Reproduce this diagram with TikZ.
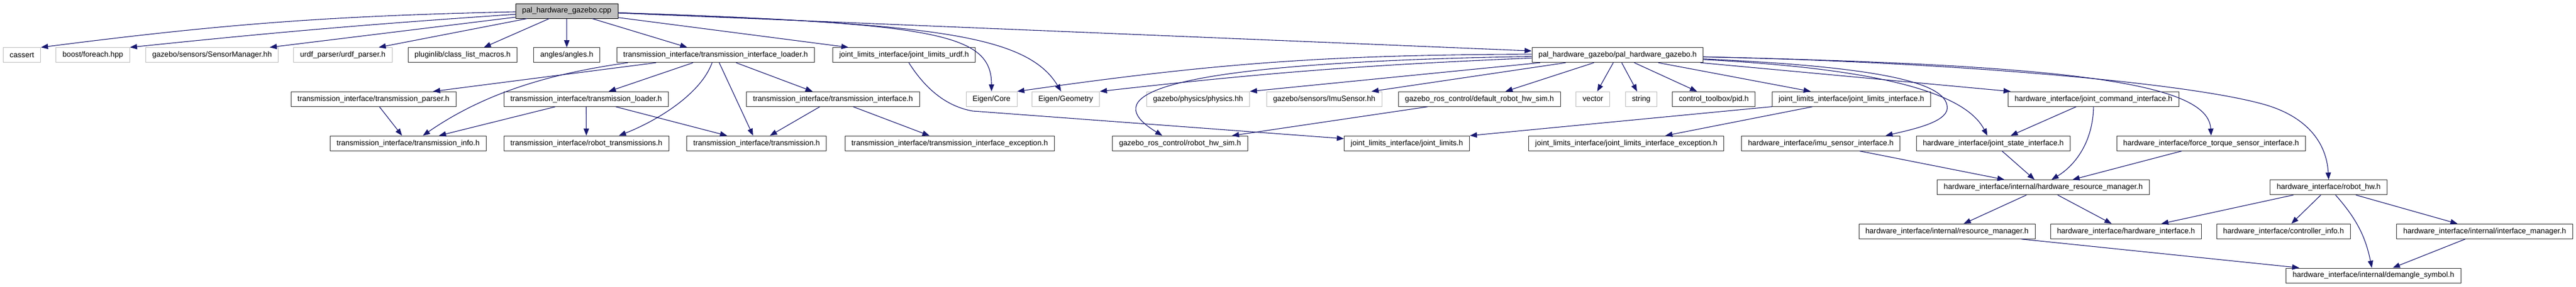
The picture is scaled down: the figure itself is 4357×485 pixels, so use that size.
\documentclass[tikz,border=0pt]{standalone}
\usepackage{fontspec}
\usepackage{tikz}
\usetikzlibrary{arrows.meta}
\newfontfamily\dotfont{Liberation Sans}
\definecolor{midblue}{HTML}{191970}
\definecolor{grey75}{HTML}{BFBFBF}
\definecolor{boxline}{HTML}{383838}
\tikzstyle{hdr}=[%
      rectangle, draw=boxline, line width=1pt, fill=white,
      minimum height=25pt, inner xsep=11pt, inner ysep=0pt,
      font=\dotfont\fontsize{12.8}{14}\selectfont
]
\tikzstyle{sys}=[%
      hdr, draw=grey75
]
\tikzstyle{srcfile}=[%
      hdr, draw=black, fill=grey75
]
\begin{document}
\begin{tikzpicture}[x=1pt, y=-1pt,
    ->,
    >={Triangle[length=12pt,width=9pt]},
    dep/.style={draw=midblue, line width=1.1pt},
    every edge/.append style={dep},
]
    \useasboundingbox (0,0) rectangle (4357,485);
    % the file itself
    \node[srcfile] (cpp)         at (958.6,18.5)  {pal\_hardware\_gazebo.cpp};
    % row 1
    \node[sys] (cassert)         at (37.1,93.2)   {cassert};
    \node[sys] (foreach)         at (157.1,93.2)  {boost/foreach.hpp};
    \node[sys] (sensormgr)       at (358.6,93.2)  {gazebo/sensors/SensorManager.hh};
    \node[sys] (urdf)            at (579.8,93.2)  {urdf\_parser/urdf\_parser.h};
    \node[hdr] (classlist)       at (782.3,93.2)  {pluginlib/class\_list\_macros.h};
    \node[hdr] (angles)          at (958.6,93.2)  {angles/angles.h};
    \node[hdr] (tiloader)        at (1210.4,93.2) {transmission\_interface/transmission\_interface\_loader.h};
    \node[hdr] (jlurdf)          at (1529.1,93.2) {joint\_limits\_interface/joint\_limits\_urdf.h};
    \node[hdr] (palh)            at (2735.9,93.2) {pal\_hardware\_gazebo/pal\_hardware\_gazebo.h};
    % row 2
    \node[hdr] (tparser)         at (631.6,167.8)  {transmission\_interface/transmission\_parser.h};
    \node[hdr] (tloader)         at (991.4,167.8)  {transmission\_interface/transmission\_loader.h};
    \node[hdr] (tinterface)      at (1408.9,167.8) {transmission\_interface/transmission\_interface.h};
    \node[sys] (eigencore)       at (1677,167.8)   {Eigen/Core};
    \node[sys] (eigengeom)       at (1802.5,167.8) {Eigen/Geometry};
    \node[sys] (physics)         at (2026.4,167.8) {gazebo/physics/physics.hh};
    \node[sys] (imusensor)       at (2239.8,167.8) {gazebo/sensors/ImuSensor.hh};
    \node[hdr] (defrhs)          at (2502.3,167.8) {gazebo\_ros\_control/default\_robot\_hw\_sim.h};
    \node[sys] (vector)          at (2694.2,167.8) {vector};
    \node[sys] (string)          at (2775.9,167.8) {string};
    \node[hdr] (pid)             at (2898.6,167.8) {control\_toolbox/pid.h};
    \node[hdr] (jlinterface)     at (3131.4,167.8) {joint\_limits\_interface/joint\_limits\_interface.h};
    \node[hdr] (jcmd)            at (3540.9,167.8) {hardware\_interface/joint\_command\_interface.h};
    % row 3
    \node[hdr] (tinfo)           at (690.2,242.7)  {transmission\_interface/transmission\_info.h};
    \node[hdr] (robtrans)        at (991.8,242.7)  {transmission\_interface/robot\_transmissions.h};
    \node[hdr] (transmission)    at (1279.8,242.7) {transmission\_interface/transmission.h};
    \node[hdr] (tiexception)     at (1606.3,242.7) {transmission\_interface/transmission\_interface\_exception.h};
    \node[hdr] (rhs)             at (1995.9,242.7) {gazebo\_ros\_control/robot\_hw\_sim.h};
    \node[hdr] (jlimits)         at (2379.6,242.7) {joint\_limits\_interface/joint\_limits.h};
    \node[hdr] (jlexception)     at (2750.7,242.7) {joint\_limits\_interface/joint\_limits\_interface\_exception.h};
    \node[hdr] (imuiface)        at (3079.6,242.7) {hardware\_interface/imu\_sensor\_interface.h};
    \node[hdr] (jstate)          at (3371.4,242.7) {hardware\_interface/joint\_state\_interface.h};
    \node[hdr] (ftsensor)        at (3739.8,242.7) {hardware\_interface/force\_torque\_sensor\_interface.h};
    % row 4
    \node[hdr] (hrm)             at (3455.9,317.2) {hardware\_interface/internal/hardware\_resource\_manager.h};
    \node[hdr] (robothw)         at (3938.6,317.2) {hardware\_interface/robot\_hw.h};
    % row 5
    \node[hdr] (resmgr)          at (3293,391.8)   {hardware\_interface/internal/resource\_manager.h};
    \node[hdr] (hwiface)         at (3595.9,391.8) {hardware\_interface/hardware\_interface.h};
    \node[hdr] (ctrlinfo)        at (3862.3,391.8) {hardware\_interface/controller\_info.h};
    \node[hdr] (ifacemgr)        at (4202.5,391.8) {hardware\_interface/internal/interface\_manager.h};
    % row 6
    \node[hdr] (demangle)        at (4014.4,466.5) {hardware\_interface/internal/demangle\_symbol.h};

    % includes of the .cpp
    \path (cpp) edge[bend right=3] (cassert.north east)
          (cpp) edge[bend right=1] (foreach.north east)
          (cpp) edge ([xshift=-15pt]sensormgr.north east)
          (cpp) edge ([xshift=-23pt]urdf.north east)
          (cpp) edge ([xshift=36pt]classlist.north)
          (cpp) edge (angles)
          (cpp) edge ([xshift=-48pt]tiloader.north)
          (cpp) edge ([xshift=27pt]jlurdf.north west)
          (cpp) edge ([yshift=7pt]palh.west)
    ;
    \draw[dep] (cpp) .. controls (1580,40) and (1677,55) .. (eigencore);
    \draw[dep] (cpp) .. controls (1560,40) and (1735,55) .. (eigengeom);

    % transmission interface
    \path (tiloader) edge (tparser)
          (tiloader) edge (tloader)
          (tiloader) edge (transmission)
          (tiloader) edge (tinterface)
          (tparser) edge (tinfo)
          (tloader) edge (tinfo)
          (tloader) edge (robtrans)
          (tloader) edge (transmission)
          (tinterface) edge (transmission)
          (tinterface) edge (tiexception)
    ;
    \draw[dep] ([xshift=19pt]tiloader.south west) .. controls (950,122) and (830,150) .. ([xshift=25pt]tinfo.north);
    \draw[dep] ([xshift=-6pt]tiloader.south) .. controls (1185,160) and (1110,205) .. ([xshift=55pt]robtrans.north);
    \draw[dep] ([xshift=8pt]jlurdf.south) .. controls (1565,150) and (1600,180) .. (1645,188) -- (jlimits);

    % includes of the header
    \path (palh) edge[bend right=4] (eigencore.north east)
          (palh) edge[bend right=2] (eigengeom.north east)
          (palh) edge (physics.north east)
          (palh) edge ([xshift=-18pt]imusensor.north east)
          (palh) edge ([xshift=44pt]defrhs.north)
          (palh) edge (vector)
          (palh) edge (string)
          (palh) edge (pid)
          (palh) edge (jlinterface)
          (palh) edge (jcmd)
    ;
    \draw[dep] (palh) .. controls (1850,108) and (1885,180) .. ([xshift=-30pt]rhs.north);
    \draw[dep] (palh) .. controls (3150,115) and (3320,150) .. ([xshift=-10pt]jstate.north);
    \draw[dep] (palh) .. controls (3150,112) and (3285,135) .. (3293,178)
                      .. controls (3300,205) and (3240,218) .. ([xshift=-25pt]imuiface.north east);
    \draw[dep] (palh) .. controls (3500,110) and (3735,140) .. (ftsensor.north);
    \draw[dep] (palh) .. controls (3300,105) and (3700,140) .. (3830,177)
                      .. controls (3900,197) and (3935,240) .. (robothw.north);

    % hardware interface
    \path (defrhs) edge (rhs)
          (jlinterface) edge (jlimits.north east)
          (jlinterface) edge (jlexception)
          (jcmd) edge (jstate)
          (jstate) edge (hrm)
          (ftsensor) edge (hrm)
          (imuiface) edge (hrm)
          (hrm) edge (resmgr)
          (hrm) edge (hwiface)
          (robothw) edge (hwiface)
          (robothw) edge (ctrlinfo)
          (robothw) edge (ifacemgr)
          (robothw) edge[bend left=15] (demangle)
          (resmgr) edge (demangle)
          (ifacemgr) edge (demangle)
    ;
    \draw[dep] (jcmd.south) .. controls (3540,240) and (3510,280) .. ([xshift=14pt]hrm.north);
\end{tikzpicture}
\end{document}
